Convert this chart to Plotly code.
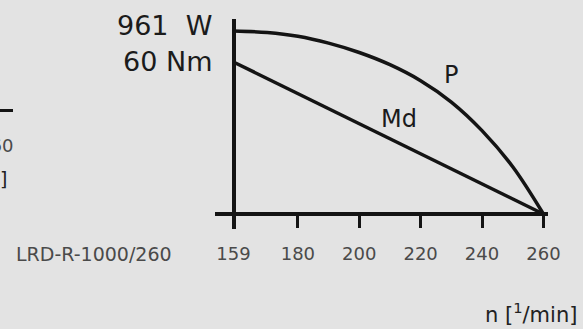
import plotly.graph_objects as go

# Speed / power curve of the drive (n in 1/min, P in W)
speed_p = [159, 170, 180, 190, 200, 210, 220, 230, 240, 250, 260]
power_w = [961, 953, 933, 897, 848, 784, 700, 588, 438, 248, 0]

# Torque characteristic (straight line, Nm)
speed_md = [159, 260]
torque_nm = [60, 0]

# Axis ticks
x_ticks = [159, 180, 200, 220, 240, 260]
x_ticktext = ["159", "180", "200", "220", "240", "260"]

model = "LRD-R-1000/260"
p_max_label = "961\u00a0\u00a0W"
md_max_label = "60 Nm"

INK = "#141414"
GREY = "#4a4a4a"
BG = "#e3e3e3"
FONT = "DejaVu Sans"

# plot-area geometry in pixels
W, H = 583, 329
L, R, T, B = 215, 35, 19, 100
PW, PH = W - L - R, H - T - B

def px_x(px):
    return (px - L) / PW

def px_y(py):
    return (H - B - py) / PH

fig = go.Figure()

fig.add_trace(go.Scatter(
    x=speed_p, y=power_w, mode="lines",
    line=dict(color=INK, width=3.5, shape="spline", smoothing=1.0),
    yaxis="y", hoverinfo="skip", showlegend=False,
))
fig.add_trace(go.Scatter(
    x=speed_md, y=torque_nm, mode="lines",
    line=dict(color=INK, width=3.5),
    yaxis="y2", hoverinfo="skip", showlegend=False,
))

annotations = [
    dict(text=p_max_label, xref="paper", x=px_x(214), yref="y", y=power_w[0],
         xanchor="right", yanchor="middle", yshift=6, showarrow=False,
         font=dict(family=FONT, size=27, color="#1b1b1b")),
    dict(text=md_max_label, xref="paper", x=px_x(214), yref="y2", y=torque_nm[0],
         xanchor="right", yanchor="middle", showarrow=False,
         font=dict(family=FONT, size=27, color="#1b1b1b")),
    dict(text="P", xref="x", x=229.9, yref="y", y=730,
         xanchor="center", yanchor="middle", showarrow=False,
         font=dict(family=FONT, size=24, color="#1b1b1b")),
    dict(text="Md", xref="x", x=212.8, yref="y2", y=37.5,
         xanchor="center", yanchor="middle", showarrow=False,
         font=dict(family=FONT, size=24, color="#1b1b1b")),
    dict(text=model, xref="paper", x=px_x(93.5), yref="paper", y=px_y(253.5),
         xanchor="center", yanchor="middle", showarrow=False,
         font=dict(family=FONT, size=19, color=GREY)),
    dict(text="n [<sup>1</sup>/min]", xref="paper", x=px_x(579), yref="paper", y=px_y(313),
         xanchor="right", yanchor="middle", showarrow=False,
         font=dict(family=FONT, size=21, color="#222222")),
    # neighbouring chart, cut off at the left edge
    dict(text="260", xref="paper", x=px_x(15), yref="paper", y=px_y(145),
         xanchor="right", yanchor="middle", showarrow=False,
         font=dict(family=FONT, size=18, color=GREY)),
    dict(text="[<sup>1</sup>/min]", xref="paper", x=px_x(10), yref="paper", y=px_y(178),
         xanchor="right", yanchor="middle", showarrow=False,
         font=dict(family=FONT, size=19, color="#222222")),
]

shapes = [
    dict(type="line", xref="paper", yref="paper",
         x0=px_x(-5), x1=px_x(13), y0=px_y(110.5), y1=px_y(110.5),
         line=dict(color=INK, width=3)),
]

fig.update_layout(
    width=W, height=H,
    margin=dict(l=L, r=R, t=T, b=B, pad=0),
    paper_bgcolor=BG, plot_bgcolor=BG,
    showlegend=False,
    xaxis=dict(
        range=[153.0, 261.5], anchor="free", position=px_y(214),
        showline=True, linewidth=4, linecolor=INK,
        showgrid=False, zeroline=False,
        tickmode="array", tickvals=x_ticks, ticktext=x_ticktext,
        ticks="outside", ticklen=12, tickwidth=3, tickcolor=INK,
        tickfont=dict(family=FONT, size=18, color=GREY),
        ticklabelstandoff=10,
    ),
    yaxis=dict(
        range=[-78.8, 1024], anchor="free", position=px_x(233.5),
        showline=True, linewidth=4, linecolor=INK,
        showgrid=False, zeroline=False, showticklabels=False, ticks="",
    ),
    yaxis2=dict(
        range=[-5.92, 76.97], overlaying="y", anchor="free", position=px_x(233.5),
        showline=False, showgrid=False, zeroline=False,
        showticklabels=False, ticks="",
    ),
    annotations=annotations,
    shapes=shapes,
)

fig.write_html("out.html", config=dict(displayModeBar=False))
